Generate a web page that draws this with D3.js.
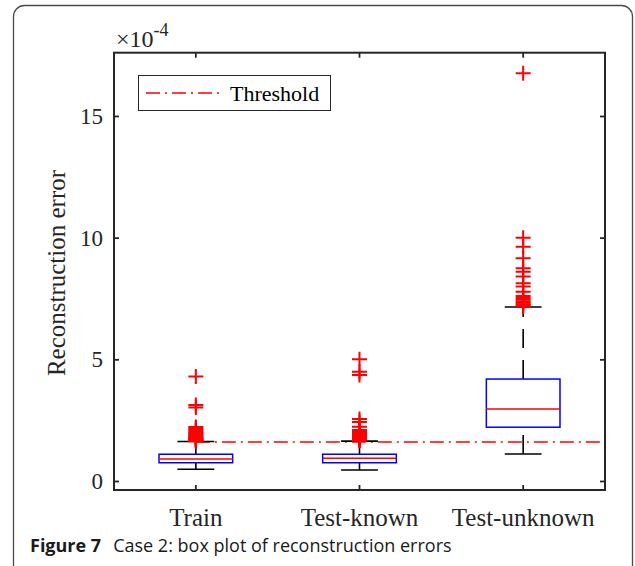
<!DOCTYPE html>
<html>
<head>
<meta charset="utf-8">
<script src="https://d3js.org/d3.v7.min.js"></script>
<style>
  body { margin: 0; background: #fff; }
  svg { display: block; }
</style>
</head>
<body>
<script>
// box plot statistics (x 1e-4)
const categories = ["Train", "Test-known", "Test-unknown"];
const lowerWhisker = [0.48, 0.45, 1.11];
const q1 = [0.75, 0.75, 2.21];
const median = [0.90, 0.93, 2.96];
const q3 = [1.10, 1.10, 4.19];
const upperWhisker = [1.62, 1.64, 7.15];

const trainOutliers = [4.29, 3.12, 3.02, 2.22, 2.17, 2.10, 2.02, 1.98, 1.94, 1.90, 1.86, 1.83, 1.80, 1.77, 1.74, 1.71, 1.69, 1.67, 1.65, 1.63];
const knownOutliers = [5.00, 4.49, 4.36, 2.55, 2.42, 2.23, 2.10, 2.02, 1.97, 1.92, 1.88, 1.84, 1.80, 1.77, 1.74, 1.71, 1.69, 1.67, 1.65];
const unknownOutliers = [16.76, 10.0, 9.63, 9.15, 8.74, 8.60, 8.40, 8.13, 7.99, 7.78, 7.60, 7.52, 7.45, 7.38, 7.32, 7.26, 7.20, 7.17];
const outliers = [trainOutliers, knownOutliers, unknownOutliers];

const threshold = 1.60;
const yTicks = [0, 5, 10, 15];

const width = 635, height = 566;
const plot = { left: 114, right: 605, top: 52.7, bottom: 490 };
const axisColor = "#262626";
const serif = "'Liberation Serif', 'Times New Roman', serif";

const svg = d3.select("body").append("svg")
    .attr("width", width)
    .attr("height", height);

// outer figure frame
svg.append("rect")
    .attr("x", 13.5).attr("y", 5.5)
    .attr("width", 619).attr("height", 575)
    .attr("rx", 11).attr("ry", 11)
    .attr("fill", "none")
    .attr("stroke", "#4a4a4a")
    .attr("stroke-width", 1.3);

const x = d3.scaleBand()
    .domain(categories)
    .range([plot.left, plot.right])
    .padding(0);
const y = d3.scaleLinear()
    .domain([-0.37, 17.6])
    .range([plot.bottom, plot.top]);

const cx = c => x(c) + x.bandwidth() / 2;
const boxW = x.bandwidth() * 0.45;
const capW = x.bandwidth() * 0.225;

// threshold line (drawn first so boxes sit on top)
svg.append("line")
    .attr("x1", cx(categories[0])).attr("x2", plot.right)
    .attr("y1", y(threshold)).attr("y2", y(threshold))
    .attr("stroke", "#ff0000")
    .attr("stroke-width", 1.5)
    .attr("stroke-dasharray", "14,5,2,5");

// boxes
const g = svg.append("g");
categories.forEach((c, i) => {
    const xc = cx(c);
    // upper whisker: box -> cap
    g.append("line")
        .attr("x1", xc).attr("x2", xc)
        .attr("y1", y(q3[i])).attr("y2", y(upperWhisker[i]))
        .attr("stroke", "#000").attr("stroke-width", 1.6)
        .attr("stroke-dasharray", "19,12");
    // lower whisker: cap -> box
    g.append("line")
        .attr("x1", xc).attr("x2", xc)
        .attr("y1", y(lowerWhisker[i])).attr("y2", y(q1[i]))
        .attr("stroke", "#000").attr("stroke-width", 1.6)
        .attr("stroke-dasharray", "19,12");
    [upperWhisker[i], lowerWhisker[i]].forEach(v => {
        g.append("line")
            .attr("x1", xc - capW / 2).attr("x2", xc + capW / 2)
            .attr("y1", y(v)).attr("y2", y(v))
            .attr("stroke", "#000").attr("stroke-width", 1.6);
    });
    g.append("rect")
        .attr("x", xc - boxW / 2)
        .attr("y", y(q3[i]))
        .attr("width", boxW)
        .attr("height", y(q1[i]) - y(q3[i]))
        .attr("fill", "none")
        .attr("stroke", "#0000ff")
        .attr("stroke-width", 1.5);
    g.append("line")
        .attr("x1", xc - boxW / 2).attr("x2", xc + boxW / 2)
        .attr("y1", y(median[i])).attr("y2", y(median[i]))
        .attr("stroke", "#ff0000").attr("stroke-width", 1.5);

    // outliers as "+" markers
    g.selectAll(null)
        .data(outliers[i])
        .enter()
        .append("path")
        .attr("d", v => `M${xc - 7.5},${y(v)}h15M${xc},${y(v) - 7.5}v15`)
        .attr("stroke", "#ff0000")
        .attr("stroke-width", 2)
        .attr("fill", "none");
});

// axes (inward ticks on all four sides)
const axL = svg.append("g")
    .attr("transform", `translate(${plot.left},0)`)
    .call(d3.axisLeft(y).tickValues(yTicks).tickSize(-5).tickPadding(11));
const axR = svg.append("g")
    .attr("transform", `translate(${plot.right},0)`)
    .call(d3.axisRight(y).tickValues(yTicks).tickSize(-5).tickFormat(""));
const axB = svg.append("g")
    .attr("transform", `translate(0,${plot.bottom})`)
    .call(d3.axisBottom(x).tickSize(-5).tickPadding(18));
const axT = svg.append("g")
    .attr("transform", `translate(0,${plot.top})`)
    .call(d3.axisTop(x).tickSize(-5).tickFormat(""));

[axL, axR, axB, axT].forEach(a => {
    a.attr("font-family", serif);
    a.select(".domain").remove();
    a.selectAll(".tick line").attr("stroke", axisColor).attr("stroke-width", 1.8);
    a.selectAll("text")
        .attr("fill", axisColor)
        .style("font-family", serif);
});
axL.selectAll("text").style("font-size", "23px");
axB.selectAll("text").style("font-size", "25px");

svg.append("rect")
    .attr("x", plot.left).attr("y", plot.top)
    .attr("width", plot.right - plot.left)
    .attr("height", plot.bottom - plot.top)
    .attr("fill", "none")
    .attr("stroke", axisColor)
    .attr("stroke-width", 2);

// exponent label
const expo = svg.append("text")
    .attr("x", 116).attr("y", 47)
    .attr("fill", axisColor)
    .style("font-family", serif)
    .style("font-size", "24px");
expo.append("tspan").text("\u00d710");
expo.append("tspan").attr("dy", -11).style("font-size", "18px").text("-4");

// y label
svg.append("text")
    .attr("transform", "translate(65,273) rotate(-90)")
    .attr("text-anchor", "middle")
    .attr("fill", axisColor)
    .style("font-family", serif)
    .style("font-size", "25px")
    .text("Reconstruction error");

// legend
const leg = svg.append("g");
leg.append("rect")
    .attr("x", 138.5).attr("y", 75.5)
    .attr("width", 192).attr("height", 35)
    .attr("fill", "#fff")
    .attr("stroke", axisColor)
    .attr("stroke-width", 1);
leg.append("line")
    .attr("x1", 146).attr("x2", 221)
    .attr("y1", 93).attr("y2", 93)
    .attr("stroke", "#ff0000")
    .attr("stroke-width", 1.5)
    .attr("stroke-dasharray", "14,5,2,5");
leg.append("text")
    .attr("x", 230).attr("y", 101)
    .attr("fill", "#000")
    .style("font-family", serif)
    .style("font-size", "22px")
    .text("Threshold");

// caption
const cap = svg.append("text")
    .attr("x", 30).attr("y", 552)
    .attr("fill", "#1a1a1a")
    .style("font-family", "'Open Sans', 'Noto Sans', sans-serif")
    .style("font-size", "18px");
cap.append("tspan").style("font-weight", "bold").text("Figure 7");
cap.append("tspan").attr("dx", 12).text("Case 2: box plot of reconstruction errors");
</script>
</body>
</html>
